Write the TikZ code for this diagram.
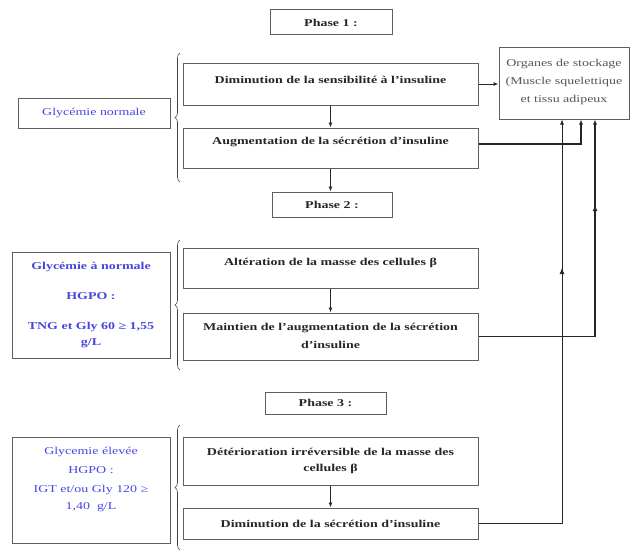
\documentclass[tikz,border=0pt]{standalone}
\usepackage{fontspec}
\setmainfont{Liberation Serif}[FakeStretch=1.33]
\usetikzlibrary{decorations.pathreplacing,decorations.markings,arrows.meta}
\definecolor{txtblue}{RGB}{70,70,225}
\definecolor{boxgray}{RGB}{95,95,95}
\definecolor{orgtext}{RGB}{85,85,85}
\begin{document}
\begin{tikzpicture}[x=1pt,y=-1pt,
  box/.style={draw=boxgray, line width=1pt, inner sep=0pt},
  lbl/.style={font=\fontsize{10.5}{17.5}\selectfont\bfseries, align=center, inner sep=0pt, text=black!85},
  bluebold/.style={font=\fontsize{10.5}{17}\selectfont\bfseries, align=center, inner sep=0pt, text=txtblue},
  bluereg/.style={font=\fontsize{10.5}{19}\selectfont, align=center, inner sep=0pt, text=txtblue},
  orglbl/.style={font=\fontsize{10.5}{18}\selectfont, align=center, inner sep=0pt, text=orgtext},
  conn/.style={draw=black!85, line width=1pt, -{Latex[length=5pt,width=4pt]}},
  bracestyle/.style={draw=black!75, line width=0.6pt, decorate, decoration={brace, amplitude=5pt}},
  midarrow/.style={postaction={decorate}, decoration={markings, mark=at position #1 with {\arrow{Latex[length=6pt,width=5pt]}}}}
]
\useasboundingbox (0,0) rectangle (631,551);

% boxes
\node[box, minimum width=122pt, minimum height=25pt] (ph1) at (331,22.5) {};
\node[box, minimum width=120pt, minimum height=25pt] (ph2) at (332,204.5) {};
\node[box, minimum width=121pt, minimum height=22pt] (ph3) at (325.5,403) {};
\node[box, minimum width=152pt, minimum height=30pt] (gn) at (94,113) {};
\node[box, minimum width=295pt, minimum height=42pt] (dim) at (330.5,84) {};
\node[box, minimum width=295pt, minimum height=40pt] (aug) at (330.5,148) {};
\node[box, minimum width=130pt, minimum height=71pt] (org) at (564,83.5) {};
\node[box, minimum width=158pt, minimum height=106pt] (gan) at (91,305) {};
\node[box, minimum width=295pt, minimum height=40pt] (alt) at (330.5,268) {};
\node[box, minimum width=295pt, minimum height=47pt] (mai) at (330.5,336.5) {};
\node[box, minimum width=158pt, minimum height=106pt] (gel) at (91,490) {};
\node[box, minimum width=295pt, minimum height=48pt] (det) at (330.5,461) {};
\node[box, minimum width=295pt, minimum height=31pt] (dsi) at (330.5,523.5) {};

% texts
\node[lbl] (tph1) at (331,23) {Phase 1 :};
\node[lbl] (tph2) at (332,205) {Phase 2 :};
\node[lbl] (tph3) at (325.5,403) {Phase 3 :};
\node[bluereg] (tgn) at (94,113) {Glycémie normale};
\node[lbl] (tdim) at (330.5,80) {Diminution de la sensibilité à l'insuline};
\node[lbl] (taug) at (330.5,142) {Augmentation de la sécrétion d'insuline};
\node[orglbl] (torg) at (564,82) {Organes de stockage\\(Muscle squelettique\\et tissu adipeux};
\node[bluebold] (tgan) at (91,305) {Glycémie à normale\\[13pt]HGPO :\\[13pt]TNG et Gly 60 ≥ 1,55\\[-1pt]g/L};
\node[lbl] (talt) at (330.5,263) {Altération de la masse des cellules β};
\node[lbl] (tmai) at (330.5,336) {Maintien de l'augmentation de la sécrétion\\d'insuline};
\node[bluereg] (tgel) at (91,479) {Glycemie élevée\\HGPO :\\IGT et/ou Gly 120 ≥\\[-2pt]1,40~~g/L};
\node[lbl] (tdet) at (330.5,461) {Détérioration irréversible de la masse des\\[-1pt]cellules β};
\node[lbl] (tdsi) at (330.5,524) {Diminution de la sécrétion d'insuline};

% entry points on the storage box
\coordinate (c1) at ([xshift=-2pt]org.south);
\coordinate (c2) at ([xshift=17pt]org.south);
\coordinate (c3) at ([xshift=31pt]org.south);

% braces
\draw[bracestyle] (180,182) -- (180,53);
\draw[bracestyle] (180,370) -- (180,240);
\draw[bracestyle] (180,550) -- (180,425);

% connectors
\draw[conn] (dim.east) -- (dim.east -| org.west);
\draw[conn] (dim.south) -- (aug.north);
\draw[conn] (aug.south) -- (aug.south |- ph2.north);
\draw[conn] (alt.south) -- (mai.north);
\draw[conn] (det.south) -- (dsi.north);
\draw[conn, line width=1.1pt] ([yshift=4pt]aug.east) -| (c2);
\draw[conn, line width=1.6pt, midarrow=248pt] (mai.east) -| (c3);
\draw[conn, line width=0.7pt, midarrow=339pt] (dsi.east) -| (c1);
\end{tikzpicture}
\end{document}
